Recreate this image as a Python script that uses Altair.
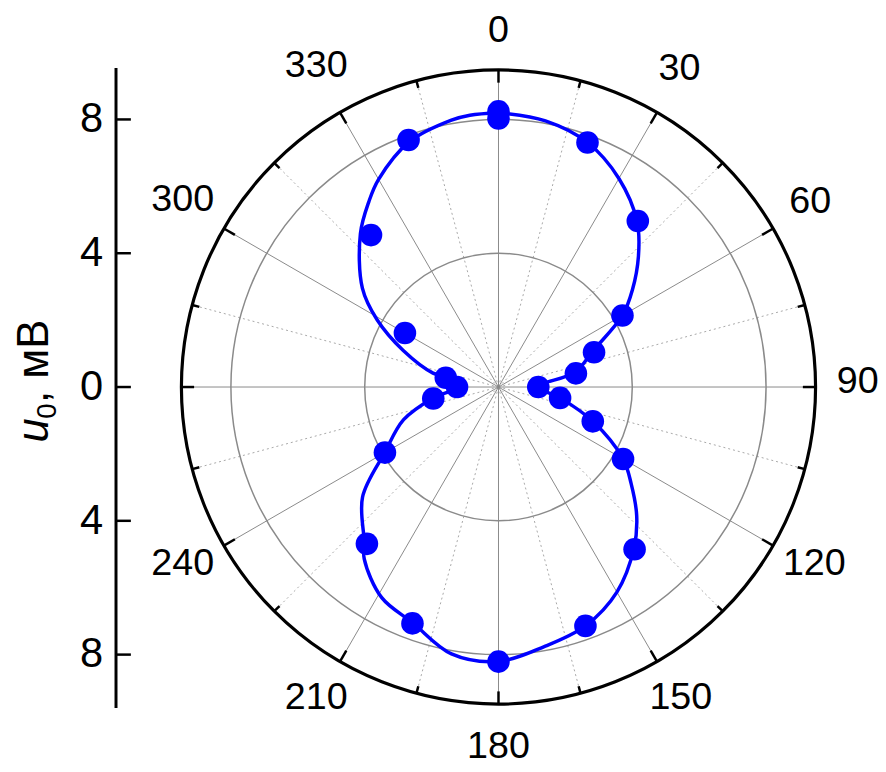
import altair as alt
import pandas as pd

RMAX = 9.48

# measured points (angle in degrees clockwise from top, amplitude in mV)
PT_ANG = [0, 0, 20, 40, 60, 70, 80, 90, 100, 110, 120, 140, 160, 180,
          200, 220, 240, 260, 270, 280, 300, 320, 340]
PT_R = [8.24, 8.03, 7.78, 6.48, 4.28, 3.04, 2.35, 1.19, 1.87, 3.0, 4.3, 6.33, 7.6, 8.21,
        7.52, 6.12, 3.92, 1.98, 1.24, 1.6, 3.23, 5.93, 7.86]

# fitted curve
CURVE_ANG = [0, 10, 20, 30, 40, 47, 54, 60, 69, 79, 90, 100, 110, 120, 126, 133, 140,
             150, 160, 170, 180, 190, 200, 209, 218, 221, 231, 240, 251, 260.5, 270,
             280.7, 282, 291, 299, 306, 318, 325, 330, 340, 350, 354, 360]
CURVE_R = [8.2, 8.08, 7.78, 7.2, 6.45, 5.72, 4.95, 4.28, 3.03, 2.34, 1.19, 1.87, 3.0,
           4.3, 4.9, 5.65, 6.3, 7.08, 7.6, 7.88, 8.2, 8.1, 7.5, 7.2, 6.52, 6.12, 5.23,
           3.93, 3.0, 1.98, 1.24, 1.6, 2.0, 3.05, 4.15, 5.03, 6.17, 6.76, 7.17, 7.8,
           8.1, 8.17, 8.2]

GRID_MAJOR = list(range(0, 360, 30))
GRID_MINOR = list(range(15, 360, 30))
GRID_R = [4, 8]
Y_TICKS = [8, 4, 0, -4, -8]
ANG_LABELS = [0, 30, 60, 90, 120, 150, 180, 210, 240, 300, 330]

W = 640
PX = (W / 2) / RMAX  # pixels per unit
FONT = "Liberation Sans"
xs = alt.Scale(domain=[-RMAX, RMAX], nice=False, zero=False)
ys = alt.Scale(domain=[-RMAX, RMAX], nice=False, zero=False)

X = lambda f: alt.X(f, type="quantitative", scale=xs, axis=None)
Y = lambda f: alt.Y(f, type="quantitative", scale=ys, axis=None)

def spokes(angles, **style):
    df = pd.DataFrame({"a": angles})
    return alt.Chart(df).transform_calculate(
        x0="0", y0="0",
        x1=f"{RMAX}*sin(datum.a*PI/180)", y1=f"{RMAX}*cos(datum.a*PI/180)"
    ).mark_rule(**style).encode(x=X("x0"), y=Y("y0"), x2="x1:Q", y2="y1:Q")

minor = spokes(GRID_MINOR, color="#a8a8a8", strokeWidth=1, strokeDash=[2, 3])
major = spokes(GRID_MAJOR, color="#8a8a8a", strokeWidth=1)

def ring(values, **style):
    df = pd.DataFrame({"r": values})
    return alt.Chart(df).transform_calculate(
        x0="0", y0="0", s=f"pow(2*datum.r*{PX}, 2)"
    ).mark_point(shape="circle", filled=False, opacity=1, **style).encode(
        x=X("x0"), y=Y("y0"), size=alt.Size("s:Q", scale=None))

circles = ring(GRID_R, stroke="#8a8a8a", strokeWidth=1.5)
outer = ring([RMAX], stroke="black", strokeWidth=3.2)

tick_df = pd.DataFrame({"a": list(range(0, 360, 15))})
ticks = alt.Chart(tick_df).transform_calculate(
    rin=f"datum.a % 30 == 0 ? {RMAX - 0.38} : {RMAX - 0.22}",
    x0=f"{RMAX}*sin(datum.a*PI/180)", y0=f"{RMAX}*cos(datum.a*PI/180)",
    x1="datum.rin*sin(datum.a*PI/180)", y1="datum.rin*cos(datum.a*PI/180)"
).mark_rule(color="black", strokeWidth=2.5).encode(x=X("x0"), y=Y("y0"), x2="x1:Q", y2="y1:Q")

curve_df = pd.DataFrame({"a": CURVE_ANG, "r": CURVE_R, "i": range(len(CURVE_ANG))})
curve = alt.Chart(curve_df).transform_calculate(
    x="datum.r*sin(datum.a*PI/180)", y="datum.r*cos(datum.a*PI/180)"
).mark_line(color="#0000ff", strokeWidth=3.5, interpolate="catmull-rom").encode(
    x=X("x"), y=Y("y"), order=alt.Order("i:Q"))

pts_df = pd.DataFrame({"a": PT_ANG, "r": PT_R})
pts = alt.Chart(pts_df).transform_calculate(
    x="datum.r*sin(datum.a*PI/180)", y="datum.r*cos(datum.a*PI/180)"
).mark_circle(color="#0000ff", opacity=1, size=520).encode(x=X("x"), y=Y("y"))

lab_df = pd.DataFrame({"a": ANG_LABELS})
ang_labels = alt.Chart(lab_df).transform_calculate(
    t="''+datum.a",
    s="sin(datum.a*PI/180)", c="cos(datum.a*PI/180)",
    d="datum.a==0 ? 354 : 368-(3-length(datum.t))*5.5*abs(datum.s)",
    x=f"datum.d*datum.s/{PX}",
    y=f"(datum.d*datum.c+5)/{PX}",
).mark_text(font=FONT, fontSize=38, color="black", align="center", baseline="middle").encode(
    x=X("x"), y=Y("y"), text="t:N")

one = pd.DataFrame({"k": [0]})
yline = alt.Chart(one).mark_rule(color="black", strokeWidth=3).encode(
    x=alt.value(-66), y=alt.value(-2), y2=alt.value(644))

yt_df = pd.DataFrame({"v": Y_TICKS})
yticks = alt.Chart(yt_df).mark_rule(color="black", strokeWidth=2.5).encode(
    y=Y("v"), x=alt.value(-66), x2=alt.value(-51))
ylabels = alt.Chart(yt_df).transform_calculate(t="''+abs(datum.v)").mark_text(
    font=FONT, fontSize=42, color="black", align="right", baseline="middle"
).encode(y=Y("v"), x=alt.value(-79), text="t:N")

t_u = alt.Chart(one).mark_text(font=FONT, fontSize=44, fontStyle="italic", angle=270,
                               align="left", baseline="alphabetic", text="u").encode(
    x=alt.value(-135), y=alt.value(376))
t_0 = alt.Chart(one).mark_text(font=FONT, fontSize=28, angle=270,
                               align="left", baseline="alphabetic", text="0").encode(
    x=alt.value(-127), y=alt.value(352))
t_rest = alt.Chart(one).mark_text(font=FONT, fontSize=44, angle=270,
                                  align="left", baseline="alphabetic", text=", мВ").encode(
    x=alt.value(-135), y=alt.value(336))

chart = alt.layer(minor, major, circles, outer, ticks, curve, pts, ang_labels,
                  yline, yticks, ylabels, t_u, t_0, t_rest).properties(
    width=W, height=W,
    padding={"left": 175, "top": 59, "right": 63, "bottom": 65},
    autosize=alt.AutoSizeParams(type="none"),
).configure_view(stroke=None)

chart.save("out.html", embed_options={"renderer": "svg", "actions": False})
